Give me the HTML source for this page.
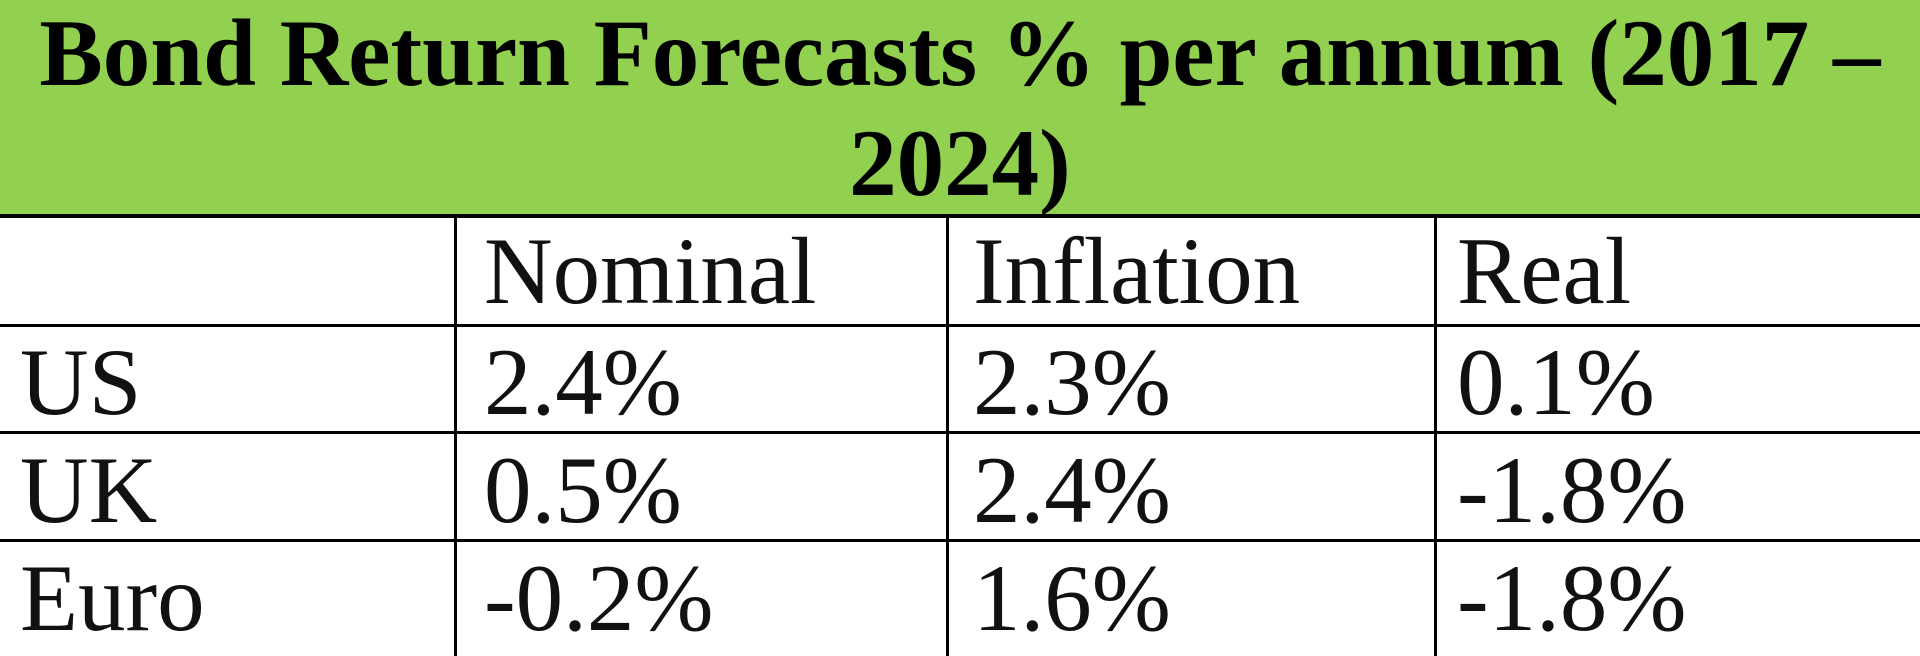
<!DOCTYPE html>
<html><head><meta charset="utf-8"><style>
html,body{margin:0;padding:0;}
body{width:1920px;height:656px;position:relative;background:#fff;overflow:hidden;font-family:"Liberation Serif",serif;color:#000;}
#hdr{position:absolute;left:0;top:0;width:1920px;height:214px;background:#92d050;}
.t{position:absolute;left:0;width:1920px;text-align:center;font-weight:bold;font-size:95px;line-height:95px;white-space:nowrap;}
.h{position:absolute;background:#000;height:3px;left:0;width:1920px;}
.v{position:absolute;background:#000;width:3px;top:216px;height:440px;}
.c{position:absolute;font-size:95px;line-height:95px;white-space:nowrap;color:#111;}
</style></head><body>
<div id="hdr"></div>
<div class="t" style="top:6px;">Bond Return Forecasts % per annum (2017 –</div>
<div class="t" style="top:116px;">2024)</div>
<div class="h" style="top:214px;height:4px;"></div>
<div class="h" style="top:324px;"></div>
<div class="h" style="top:431px;"></div>
<div class="h" style="top:539px;"></div>
<div class="v" style="left:454px;"></div>
<div class="v" style="left:946px;"></div>
<div class="v" style="left:1434px;"></div>

<div class="c" style="left:484px;top:224px;">Nominal</div>
<div class="c" style="left:973px;top:224px;">Inflation</div>
<div class="c" style="left:1457px;top:224px;">Real</div>

<div class="c" style="left:20px;top:335px;">US</div>
<div class="c" style="left:484px;top:335px;">2.4%</div>
<div class="c" style="left:973px;top:335px;">2.3%</div>
<div class="c" style="left:1457px;top:335px;">0.1%</div>

<div class="c" style="left:20px;top:443px;">UK</div>
<div class="c" style="left:484px;top:443px;">0.5%</div>
<div class="c" style="left:973px;top:443px;">2.4%</div>
<div class="c" style="left:1457px;top:443px;">-1.8%</div>

<div class="c" style="left:20px;top:551px;">Euro</div>
<div class="c" style="left:484px;top:551px;">-0.2%</div>
<div class="c" style="left:973px;top:551px;">1.6%</div>
<div class="c" style="left:1457px;top:551px;">-1.8%</div>
</body></html>
